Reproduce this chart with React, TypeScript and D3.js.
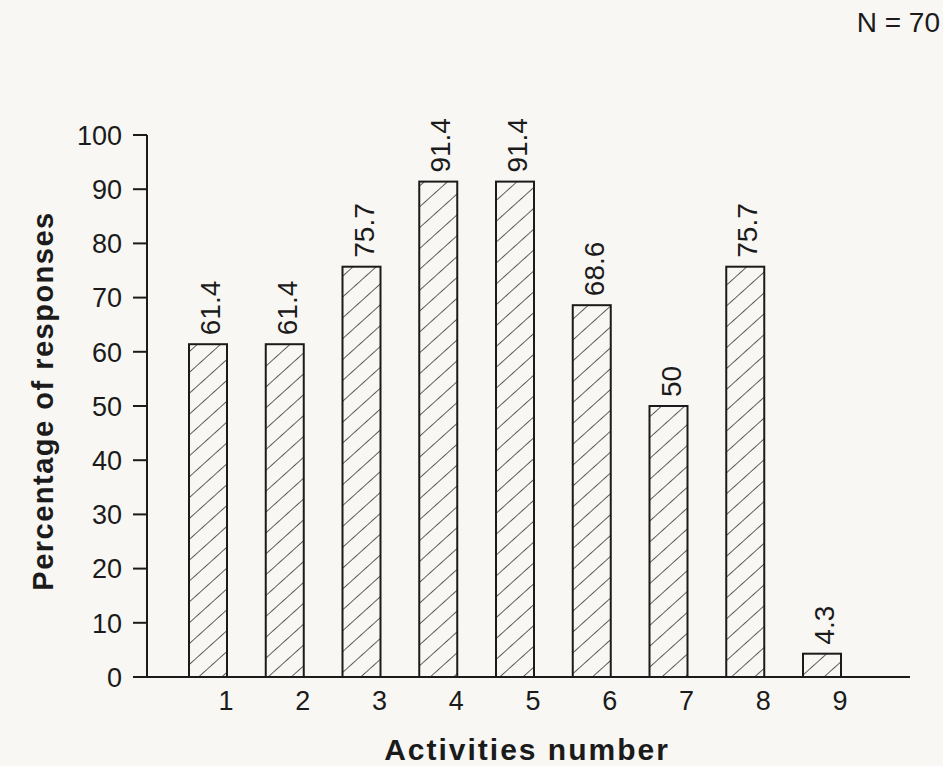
import React from "react";
import * as d3 from "d3";

const activities: number[] = [1, 2, 3, 4, 5, 6, 7, 8, 9];
const percentages: number[] = [61.4, 61.4, 75.7, 91.4, 91.4, 68.6, 50, 75.7, 4.3];
const valueLabels: string[] = ["61.4", "61.4", "75.7", "91.4", "91.4", "68.6", "50", "75.7", "4.3"];
const yTicks: number[] = [0, 10, 20, 30, 40, 50, 60, 70, 80, 90, 100];
const yTitle = "Percentage of responses";
const xTitle = "Activities number";
const sampleNote = "N = 70";

const W = 943;
const H = 766;
const FONT = "'Liberation Sans', Arial, Helvetica, sans-serif";
const INK = "#1b1b1b";

export default function App() {
  const x = d3.scaleLinear().domain([1, 9]).range([208, 822]);
  const y = d3.scaleLinear().domain([0, 100]).range([677, 135]);
  const barW = 38;
  const axisX = 147;

  return (
    <div style={{ position: "absolute", left: 0, top: 0, width: W, height: H }}>
      <svg width={W} height={H} style={{ display: "block", background: "#f8f7f3" }}>
        <defs>
          <pattern
            id="hatch"
            patternUnits="userSpaceOnUse"
            width={15.5}
            height={15.5}
            patternTransform="rotate(48)"
          >
            <line x1={0} y1={0} x2={0} y2={15.5} stroke={INK} strokeWidth={1.4} />
          </pattern>
        </defs>

        {/* bars */}
        {percentages.map((v, i) => (
          <rect
            key={"b" + i}
            x={x(activities[i]) - barW / 2}
            y={y(v)}
            width={barW}
            height={y(0) - y(v)}
            fill="url(#hatch)"
            stroke={INK}
            strokeWidth={2}
          />
        ))}

        {/* value labels */}
        {percentages.map((v, i) => (
          <text
            key={"v" + i}
            transform={`translate(${x(activities[i]) + 12},${y(v) - 9}) rotate(-90)`}
            fontFamily={FONT}
            fontSize={28}
            fill={INK}
            textAnchor="start"
          >
            {valueLabels[i]}
          </text>
        ))}

        {/* y axis */}
        <line x1={axisX} x2={axisX} y1={y(100)} y2={y(0)} stroke={INK} strokeWidth={2} />
        {yTicks.map((t) => (
          <g key={"yt" + t}>
            <line x1={axisX - 14} x2={axisX} y1={y(t)} y2={y(t)} stroke={INK} strokeWidth={2} />
            <text
              x={122}
              y={y(t)}
              dy="0.36em"
              textAnchor="end"
              fontFamily={FONT}
              fontSize={27}
              fill={INK}
            >
              {t}
            </text>
          </g>
        ))}

        {/* x axis */}
        <line x1={axisX - 14} x2={910} y1={y(0)} y2={y(0)} stroke={INK} strokeWidth={2} />
        {activities.map((a) => (
          <text
            key={"xt" + a}
            x={x(a) + barW / 2 - 1}
            y={710}
            textAnchor="middle"
            fontFamily={FONT}
            fontSize={27}
            fill={INK}
          >
            {a}
          </text>
        ))}

        {/* titles */}
        <text
          x={527}
          y={760}
          textAnchor="middle"
          fontFamily={FONT}
          fontWeight="bold"
          fontSize={30}
          letterSpacing={2}
          fill={INK}
        >
          {xTitle}
        </text>
        <text
          transform={`translate(53,401) rotate(-90)`}
          textAnchor="middle"
          fontFamily={FONT}
          fontWeight="bold"
          fontSize={29}
          letterSpacing={1.5}
          fill={INK}
        >
          {yTitle}
        </text>
        <text
          x={940}
          y={32}
          textAnchor="end"
          fontFamily={FONT}
          fontSize={28}
          fill={INK}
        >
          {sampleNote}
        </text>
      </svg>
    </div>
  );
}
